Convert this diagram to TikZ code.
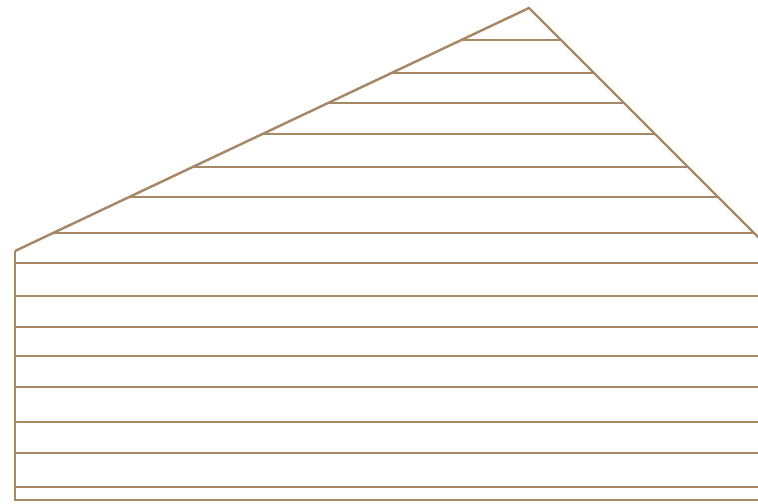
\documentclass[tikz,border=0pt]{standalone}
\definecolor{siding}{RGB}{166,136,102}
\tikzset{board/.style={draw=siding,line width=1.4pt}}
\begin{document}
\begin{tikzpicture}[x=0.02cm,y=-0.02cm]
\useasboundingbox (0,0) rectangle (758,504);

% gable
\begin{scope}
\clip (15,251) -- (529,8) -- (760,239) -- cycle;
\foreach \y in {40,73,103,134,167,197,233}
  \draw[board] (0,\y) -- (760,\y);
\end{scope}
\draw[board,line join=miter] (15,251) -- (529,8) -- (760,239);

% wall
\foreach \y in {263,296,327,356,387,422,453,487}
  \draw[board] (15,\y) -- (760,\y);
\draw[board] (15,251) -- (15,500) -- (760,500);
\end{tikzpicture}
\end{document}
